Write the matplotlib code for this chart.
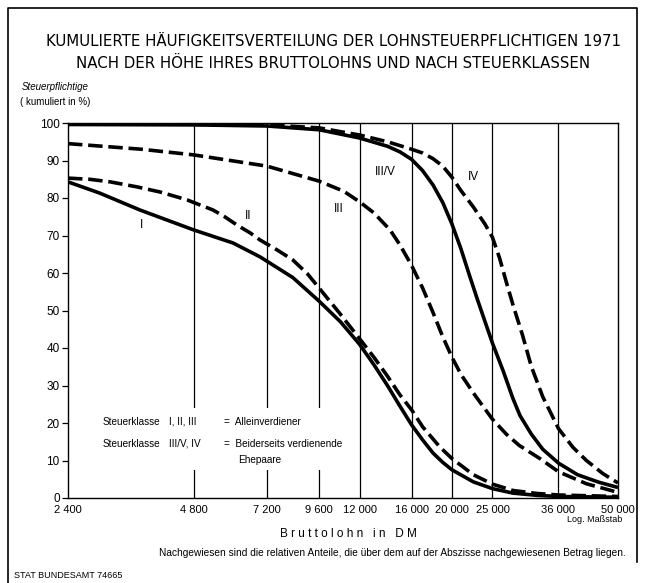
import numpy as np
from matplotlib import pyplot as plt
from matplotlib.patches import Rectangle
from matplotlib.lines import Line2D

plt.rcParams['font.family'] = ['Liberation Sans', 'DejaVu Sans']

# Bruttolohn-Stufen (DM) fuer die Achse
xticks = [2400, 4800, 7200, 9600, 12000, 16000, 20000, 25000, 36000, 50000]
xlabels = ["2 400", "4 800", "7 200", "9 600", "12 000", "16 000", "20 000", "25 000", "36 000", "50 000"]

# Steuerklasse I (durchgezogen)
x_I = [2400, 2860, 3570, 4800, 5970, 6930, 8300, 9600, 10800, 12000, 13000, 14000, 15000, 16000,
       17000, 18000, 19000, 20000, 22500, 25000, 28000, 32000, 36000, 50000]
y_I = [84.3, 81.3, 76.8, 71.5, 68.0, 64.3, 58.8, 52.5, 47.0, 41.0, 35.5, 30.0, 24.5, 19.5,
       15.5, 12.0, 9.5, 7.5, 4.3, 2.5, 1.3, 0.7, 0.4, 0.2]

# Steuerklasse II (gestrichelt)
x_II = [2400, 2700, 3030, 3500, 3990, 4630, 5345, 5700, 6100, 6560, 6930, 7600, 8300, 9000, 9600,
        10800, 12000, 13000, 14000, 15000, 16000, 17000, 18700, 20000, 22500, 25000, 28000, 32000, 36000, 50000]
y_II = [85.3, 85.0, 84.3, 83.0, 81.6, 79.5, 76.8, 75.0, 72.8, 70.7, 68.8, 66.2, 63.5, 59.8, 56.0,
        49.0, 42.5, 37.5, 32.5, 27.5, 23.5, 19.0, 13.6, 10.5, 6.2, 3.7, 2.0, 1.2, 0.8, 0.4]

# Steuerklasse III (gestrichelt)
x_III = [2400, 3600, 4800, 7200, 9600, 11000, 12000, 13000, 14200, 15000, 16000, 17000, 18000, 19000,
         20000, 21000, 22500, 25000, 27000, 29000, 32500, 36000, 42000, 50000]
y_III = [94.5, 93.0, 91.5, 88.5, 84.5, 81.8, 79.0, 76.0, 71.5, 67.5, 62.0, 56.0, 49.5, 43.0,
         37.5, 33.0, 28.0, 21.0, 17.0, 14.0, 10.5, 7.0, 3.8, 1.5]

# Steuerklasse III/V (durchgezogen)
x_IIIV = [2400, 4800, 7200, 9600, 12000, 14000, 15000, 16000, 17000, 18000, 19000, 20000, 21000,
          22000, 23000, 24000, 25000, 26500, 28000, 29100, 31000, 33000, 36000, 40000, 45000, 50000]
y_IIIV = [99.6, 99.5, 99.2, 98.2, 96.0, 93.8, 92.3, 90.3, 87.3, 83.5, 78.8, 73.0, 66.5,
          59.5, 53.0, 47.0, 41.3, 34.0, 26.5, 22.0, 17.0, 13.0, 9.3, 6.2, 4.2, 2.8]

# Steuerklasse IV (gestrichelt)
x_IV = [2400, 7200, 9600, 12000, 14000, 16000, 17000, 18000, 19000, 20000, 21000, 22500, 24000,
        25000, 26000, 27000, 28000, 29500, 31000, 33000, 36000, 39000, 42000, 46000, 50000]
y_IV = [99.9, 99.5, 98.7, 96.8, 95.0, 93.0, 92.0, 90.5, 88.5, 85.5, 82.0, 77.6, 73.0,
        69.5, 64.0, 57.5, 51.5, 43.5, 35.0, 27.0, 18.5, 13.5, 10.0, 6.5, 4.0]

fig = plt.figure(figsize=(6.46, 5.83), dpi=100)
ax = fig.add_axes([68/646, 85/583, 550/646, 375/583])

ax.set_xscale('log')
ax.set_xlim(2400, 50000)
ax.set_ylim(0, 100)

# vertikale Linien an den Achsenwerten
for xv in xticks[1:-1]:
    ax.axvline(xv, color='black', lw=0.9, zorder=1)

# Platz fuer die Erlaeuterung freihalten
ax.add_patch(Rectangle((34/550, 28/375), 250/550, 62/375, transform=ax.transAxes,
                       facecolor='white', edgecolor='none', zorder=2))

solid = dict(color='black', lw=2.6, solid_capstyle='butt', solid_joinstyle='round', zorder=3)
dashed = dict(color='black', lw=2.6, ls=(0, (4, 1.6)), dash_capstyle='butt', zorder=3)
ax.plot(x_I, y_I, **solid)
ax.plot(x_II, y_II, **dashed)
ax.plot(x_III, y_III, **dashed)
ax.plot(x_IIIV, y_IIIV, **solid)
ax.plot(x_IV, y_IV, **dashed)

# Kurvenbeschriftungen
for lab, xv, yv in [("I", 3600, 72.8), ("II", 6500, 75.2), ("III", 10700, 77),
                    ("III/V", 13800, 87), ("IV", 22500, 85.6)]:
    ax.text(xv, yv, lab, fontsize=8.5, ha='center', va='center', zorder=4)

ax.set_xticks(xticks)
ax.set_xticklabels(xlabels, fontsize=8)
ax.xaxis.set_minor_locator(plt.NullLocator())
ax.tick_params(axis='x', length=0, pad=5)
ax.set_yticks(np.arange(0, 101, 10))
ax.tick_params(axis='y', labelsize=8.5, length=4, width=0.9, pad=2)
for s in ax.spines.values():
    s.set_linewidth(1.0)

# Erlaeuterung
lf = 7.2
fig.text(103/646, 1 - 422/583, "Steuerklasse", fontsize=lf, va='center')
fig.text(169/646, 1 - 422/583, "I, II, III", fontsize=lf, va='center')
fig.text(224/646, 1 - 422/583, "=  Alleinverdiener", fontsize=lf, va='center')
fig.text(103/646, 1 - 444/583, "Steuerklasse", fontsize=lf, va='center')
fig.text(169/646, 1 - 444/583, "III/V, IV", fontsize=lf, va='center')
fig.text(224/646, 1 - 444/583, "=  Beiderseits verdienende", fontsize=lf, va='center')
fig.text(238/646, 1 - 460/583, "Ehepaare", fontsize=lf, va='center')

fig.text(333/646, 1 - 42/583, "KUMULIERTE HÄUFIGKEITSVERTEILUNG DER LOHNSTEUERPFLICHTIGEN 1971",
         fontsize=10.8, ha='center', va='center', family='DejaVu Sans')
fig.text(333/646, 1 - 63/583, "NACH DER HÖHE IHRES BRUTTOLOHNS UND NACH STEUERKLASSEN",
         fontsize=10.8, ha='center', va='center', family='DejaVu Sans')
fig.text(22/646, 1 - 87/583, "Steuerpflichtige", fontsize=7, style='italic', va='center')
fig.text(20/646, 1 - 102/583, "( kumuliert in %)", fontsize=7, va='center')

fig.text(622/646, 1 - 520/583, "Log. Maßstab", fontsize=6.5, ha='right', va='center')
fig.text(348/646, 1 - 534/583, "B r u t t o l o h n   i n   D M", fontsize=8.5, ha='center', va='center')
fig.text(626/646, 1 - 553/583,
         "Nachgewiesen sind die relativen Anteile, die über dem auf der Abszisse nachgewiesenen Betrag liegen.",
         fontsize=7.3, ha='right', va='center')
fig.text(14/646, 1 - 575/583, "STAT BUNDESAMT 74665", fontsize=6.5, va='center')

# Rahmen
fx = [8/646, 8/646, 637/646, 637/646]
fy = [0, 1 - 8/583, 1 - 8/583, 1 - 562/583]
fig.add_artist(Line2D(fx, fy, color='black', lw=1.2, transform=fig.transFigure))

fig.savefig("out.png", dpi=100)
